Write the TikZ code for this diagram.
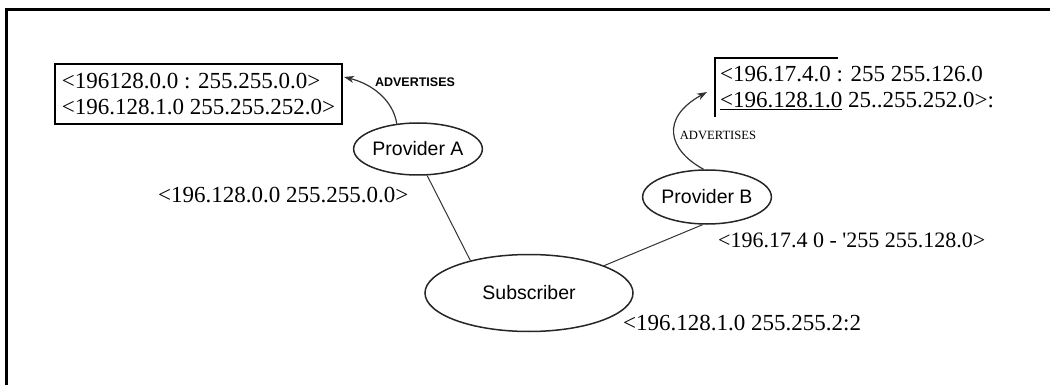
\documentclass[tikz,border=0pt]{standalone}
\usepackage{fontspec}
\setmainfont{Liberation Serif}
\setsansfont{Liberation Sans}
\usetikzlibrary{arrows.meta,positioning,shapes.geometric}

\begin{document}
\begin{tikzpicture}[x=1pt,y=-1pt,
  site/.style={ellipse,draw=black!85,line width=1.5pt,inner sep=0pt,font=\fontsize{19.5}{22}\sffamily},
  addr/.style={font=\fontsize{23}{26}\selectfont,inner sep=0pt},
  adv/.style={-{Stealth[length=10pt,width=7pt,inset=3pt]},line width=1.2pt,black!80},
  link/.style={line width=1pt,black!80}]
  \useasboundingbox (0,0) rectangle (1050,385);
  \draw[line width=3pt] (6.7,385) -- (6.7,10) -- (1050,10);

  \node[addr,draw,line width=1.2pt,minimum width=287pt,minimum height=60pt,align=left] (boxA) at (198.5,94)
    {<196128.0.0 : 255.255.0.0>\\<196.128.1.0 255.255.252.0>};
  \node[addr,anchor=north west,minimum height=59pt,align=left,inner xsep=5pt] (boxB) at (715,58)
    {<196.17.4.0 : 255 255.126.0\\\underline{<196.128.1.0} 25..255.252.0>:};
  \draw[line width=1.2pt] (boxB.south west) -- (boxB.north west) -- ++(123,0);

  \node[site,minimum width=120pt,minimum height=52pt] (provA) at (418,149) {Provider A};
  \node[site,minimum width=125pt,minimum height=54pt] (provB) at (707,197) {Provider B};
  \node[site,minimum width=208pt,minimum height=77pt] (sub) at (529,293) {Subscriber};

  \node[font=\fontsize{12.5}{14}\sffamily\bfseries] (advA) at (415,82) {ADVERTISES};
  \node[font=\fontsize{12.6}{14}\selectfont] (advB) at (718,135) {ADVERTISES};

  \node[addr,anchor=west] (netA) at (158,195) {<196.128.0.0 255.255.0.0>};
  \node[addr,anchor=west,font=\fontsize{22}{26}\selectfont] (netB) at (718,240) {<196.17.4 0 - \textquotesingle255 255.128.0>};
  \node[addr,anchor=west] (netS) at (623,323) {<196.128.1.0 255.255.2:2};

  \coordinate (tipA) at (344,77);
  \coordinate (tipB) at (707,92);
  \draw[adv] (provA.130) .. controls (393,100) and (372,84) .. (tipA);
  \draw[adv] (provB.97) .. controls (668,150) and (660,118) .. (tipB);

  \draw[link] (provA.-71) -- (sub.151);
  \draw[link] (sub.20) -- (provB.-99);
\end{tikzpicture}
\end{document}
